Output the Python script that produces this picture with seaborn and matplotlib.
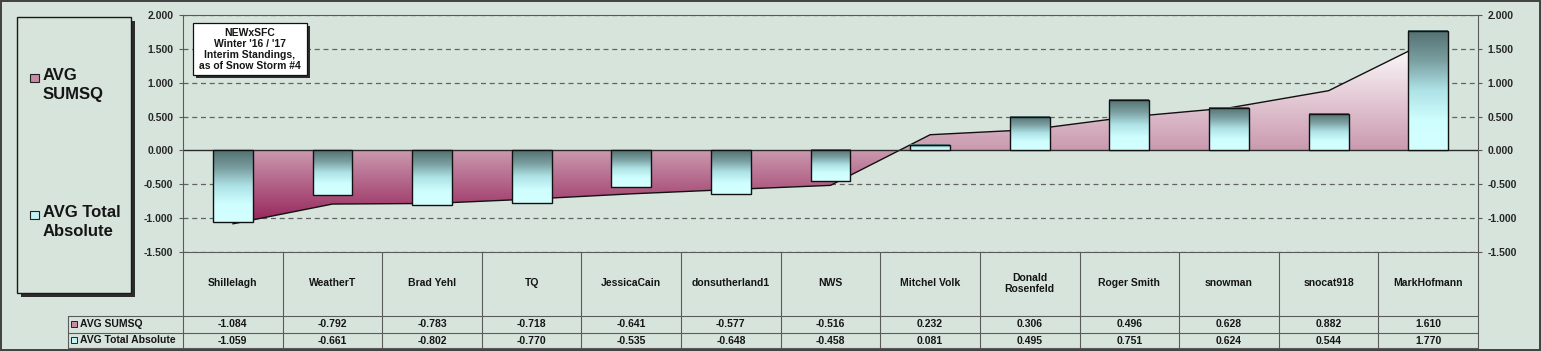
import numpy as np
import pandas as pd
import matplotlib
matplotlib.use('Agg')
import matplotlib.pyplot as plt
from matplotlib.colors import LinearSegmentedColormap
from matplotlib.patches import Rectangle
import seaborn as sns

# data
names = ['Shillelagh', 'WeatherT', 'Brad Yehl', 'TQ', 'JessicaCain', 'donsutherland1', 'NWS',
         'Mitchel Volk', 'Donald\nRosenfeld', 'Roger Smith', 'snowman', 'snocat918', 'MarkHofmann']
avg_sumsq = [-1.084, -0.792, -0.783, -0.718, -0.641, -0.577, -0.516, 0.232, 0.306, 0.496, 0.628, 0.882, 1.610]
avg_total_abs = [-1.059, -0.661, -0.802, -0.770, -0.535, -0.648, -0.458, 0.081, 0.495, 0.751, 0.624, 0.544, 1.770]
series_labels = ['AVG SUMSQ', 'AVG Total Absolute']
y_ticks = [-1.5, -1.0, -0.5, 0.0, 0.5, 1.0, 1.5, 2.0]
title_text = "NEWxSFC\nWinter '16 / '17\nInterim Standings,\nas of Snow Storm #4"

BG = '#d7e4dc'
LINE = '#5a5a5a'

sns.set_style('white')
plt.rcParams['font.family'] = ['Liberation Sans', 'DejaVu Sans']
plt.rcParams['font.weight'] = 'bold'
plt.rcParams['text.color'] = '#151515'

W, H = 1541, 351
fig = plt.figure(figsize=(W / 100, H / 100), dpi=100, facecolor=BG)


def box(x0, y0, x1, y1):
    # pixel box (top-left origin) -> figure fraction rect
    return [x0 / W, 1 - y1 / H, (x1 - x0) / W, (y1 - y0) / H]


# main plot
ax = fig.add_axes(box(183, 15, 1478, 252))
ax.patch.set_visible(False)

df = pd.DataFrame({'name': names, 'abs': avg_total_abs})
sns.barplot(data=df, x='name', y='abs', ax=ax, width=0.4, color='white',
            edgecolor='#111111', linewidth=1.0, zorder=4)

bar_cmap = LinearSegmentedColormap.from_list(
    'bar', ['#527070', '#7a9ea0', '#aee2e6', '#cffefe', '#d4ffff'])
grad = np.linspace(0, 1, 256).reshape(-1, 1)
for p in ax.patches:
    x0, w = p.get_x(), p.get_width()
    y0, h = p.get_y(), p.get_height()
    top, bot = max(y0, y0 + h), min(y0, y0 + h)
    p.set_facecolor('none')
    ax.imshow(grad, cmap=bar_cmap, extent=[x0, x0 + w, bot, top], origin='upper',
              aspect='auto', zorder=3, interpolation='bicubic')

# area series with vertical gradient
x = np.arange(len(names))
area = ax.fill_between(x, 0, avg_sumsq, facecolor='none', edgecolor='none', zorder=1)
lo, hi = min(avg_sumsq), max(avg_sumsq)
z0 = -lo / (hi - lo)
area_cmap = LinearSegmentedColormap.from_list(
    'area', [(0, '#96225a'), (z0, '#ca99ae'), (1, '#ffffff')])
im = ax.imshow(grad, cmap=area_cmap, extent=[x[0], x[-1], lo, hi], origin='lower',
               aspect='auto', zorder=1, interpolation='bicubic')
im.set_clip_path(area.get_paths()[0], ax.transData)
sns.lineplot(x=x, y=avg_sumsq, ax=ax, color='#111111', linewidth=1.0, zorder=2)

for v in y_ticks:
    if v == 0:
        ax.axhline(v, color='#2a2a2a', lw=1.0, zorder=2.5)
    else:
        ax.axhline(v, color='#626262', lw=0.9, ls=(0, (4, 3)), zorder=0)

ax.set_xlim(-0.5, 12.5)
ax.set_ylim(-1.5, 2.0)
ax.set_xticks([])
ax.set_xlabel('')
ax.set_ylabel('')
ax.set_yticks(y_ticks)
ax.set_yticklabels([f'{v:.3f}' for v in y_ticks], fontsize=7.5, fontweight='bold')
ax.tick_params(axis='y', direction='out', length=3, width=0.8, color=LINE, pad=4)
for s in ax.spines.values():
    s.set_color(LINE)
    s.set_linewidth(0.8)

ax2 = ax.twinx()
ax2.set_ylim(-1.5, 2.0)
ax2.set_yticks(y_ticks)
ax2.set_yticklabels([f'{v:.3f}' for v in y_ticks], fontsize=7.5, fontweight='bold')
ax2.tick_params(axis='y', direction='out', length=3, width=0.8, color=LINE, pad=4)
for s in ax2.spines.values():
    s.set_visible(False)

# data table under the plot
tab = fig.add_axes(box(183, 252, 1478, 348))
tab.set_xlim(-0.5, 12.5)
tab.set_ylim(96, 0)
tab.set_axis_off()
for k in range(len(names) + 1):
    tab.plot([k - 0.5, k - 0.5], [0, 96], color=LINE, lw=0.8, clip_on=False)
for yy in (64, 80.5, 96):
    tab.plot([-0.5, 12.5], [yy, yy], color=LINE, lw=0.8, clip_on=False)
for i, n in enumerate(names):
    tab.text(i, 31.5, n, ha='center', va='center', fontsize=7.5, linespacing=1.1)
    tab.text(i, 72.3, f'{avg_sumsq[i]:.3f}', ha='center', va='center', fontsize=7.5)
    tab.text(i, 88.5, f'{avg_total_abs[i]:.3f}', ha='center', va='center', fontsize=7.5)

# overlay for legend, title box, row labels, border
ov = fig.add_axes([0, 0, 1, 1])
ov.set_xlim(0, W)
ov.set_ylim(H, 0)
ov.set_axis_off()

for yy in (316, 332.5, 348):
    ov.plot([68, 183], [yy, yy], color=LINE, lw=0.8)
ov.plot([68, 68], [316, 348], color=LINE, lw=0.8)
swatch = ['#c98aa5', '#c4f2f4']
for j, (lab, yy) in enumerate(zip(series_labels, (324, 340))):
    ov.add_patch(Rectangle((71.5, yy - 3.5), 6, 6, facecolor=swatch[j], edgecolor='#222222', lw=0.7))
    ov.text(80, yy, lab, ha='left', va='center', fontsize=7.5)

# legend box
ov.add_patch(Rectangle((21, 21), 114, 276, facecolor='#2c2c2c', edgecolor='none'))
ov.add_patch(Rectangle((17, 17), 114, 276, facecolor=BG, edgecolor='#1a1a1a', lw=1.0))
leg_text = ['AVG\nSUMSQ', 'AVG Total\nAbsolute']
for j, (lab, yy) in enumerate(zip(leg_text, (78, 215))):
    ov.add_patch(Rectangle((30, yy - 4), 9, 8, facecolor=swatch[j], edgecolor='#222222', lw=0.8))
    ov.text(43, yy - 10, lab, ha='left', va='top', fontsize=12, linespacing=1.3)

# title box
ov.add_patch(Rectangle((196, 26), 114, 52, facecolor='#2c2c2c', edgecolor='none'))
ov.add_patch(Rectangle((193, 23), 114, 52, facecolor='white', edgecolor='#111111', lw=0.9))
ov.text(250, 49.5, title_text, ha='center', va='center', fontsize=7.5, linespacing=1.15)

ov.add_patch(Rectangle((0.8, 0.8), W - 1.6, H - 1.6, facecolor='none', edgecolor='#404040', lw=1.4))

fig.savefig('out.png', dpi=100, facecolor=BG)
